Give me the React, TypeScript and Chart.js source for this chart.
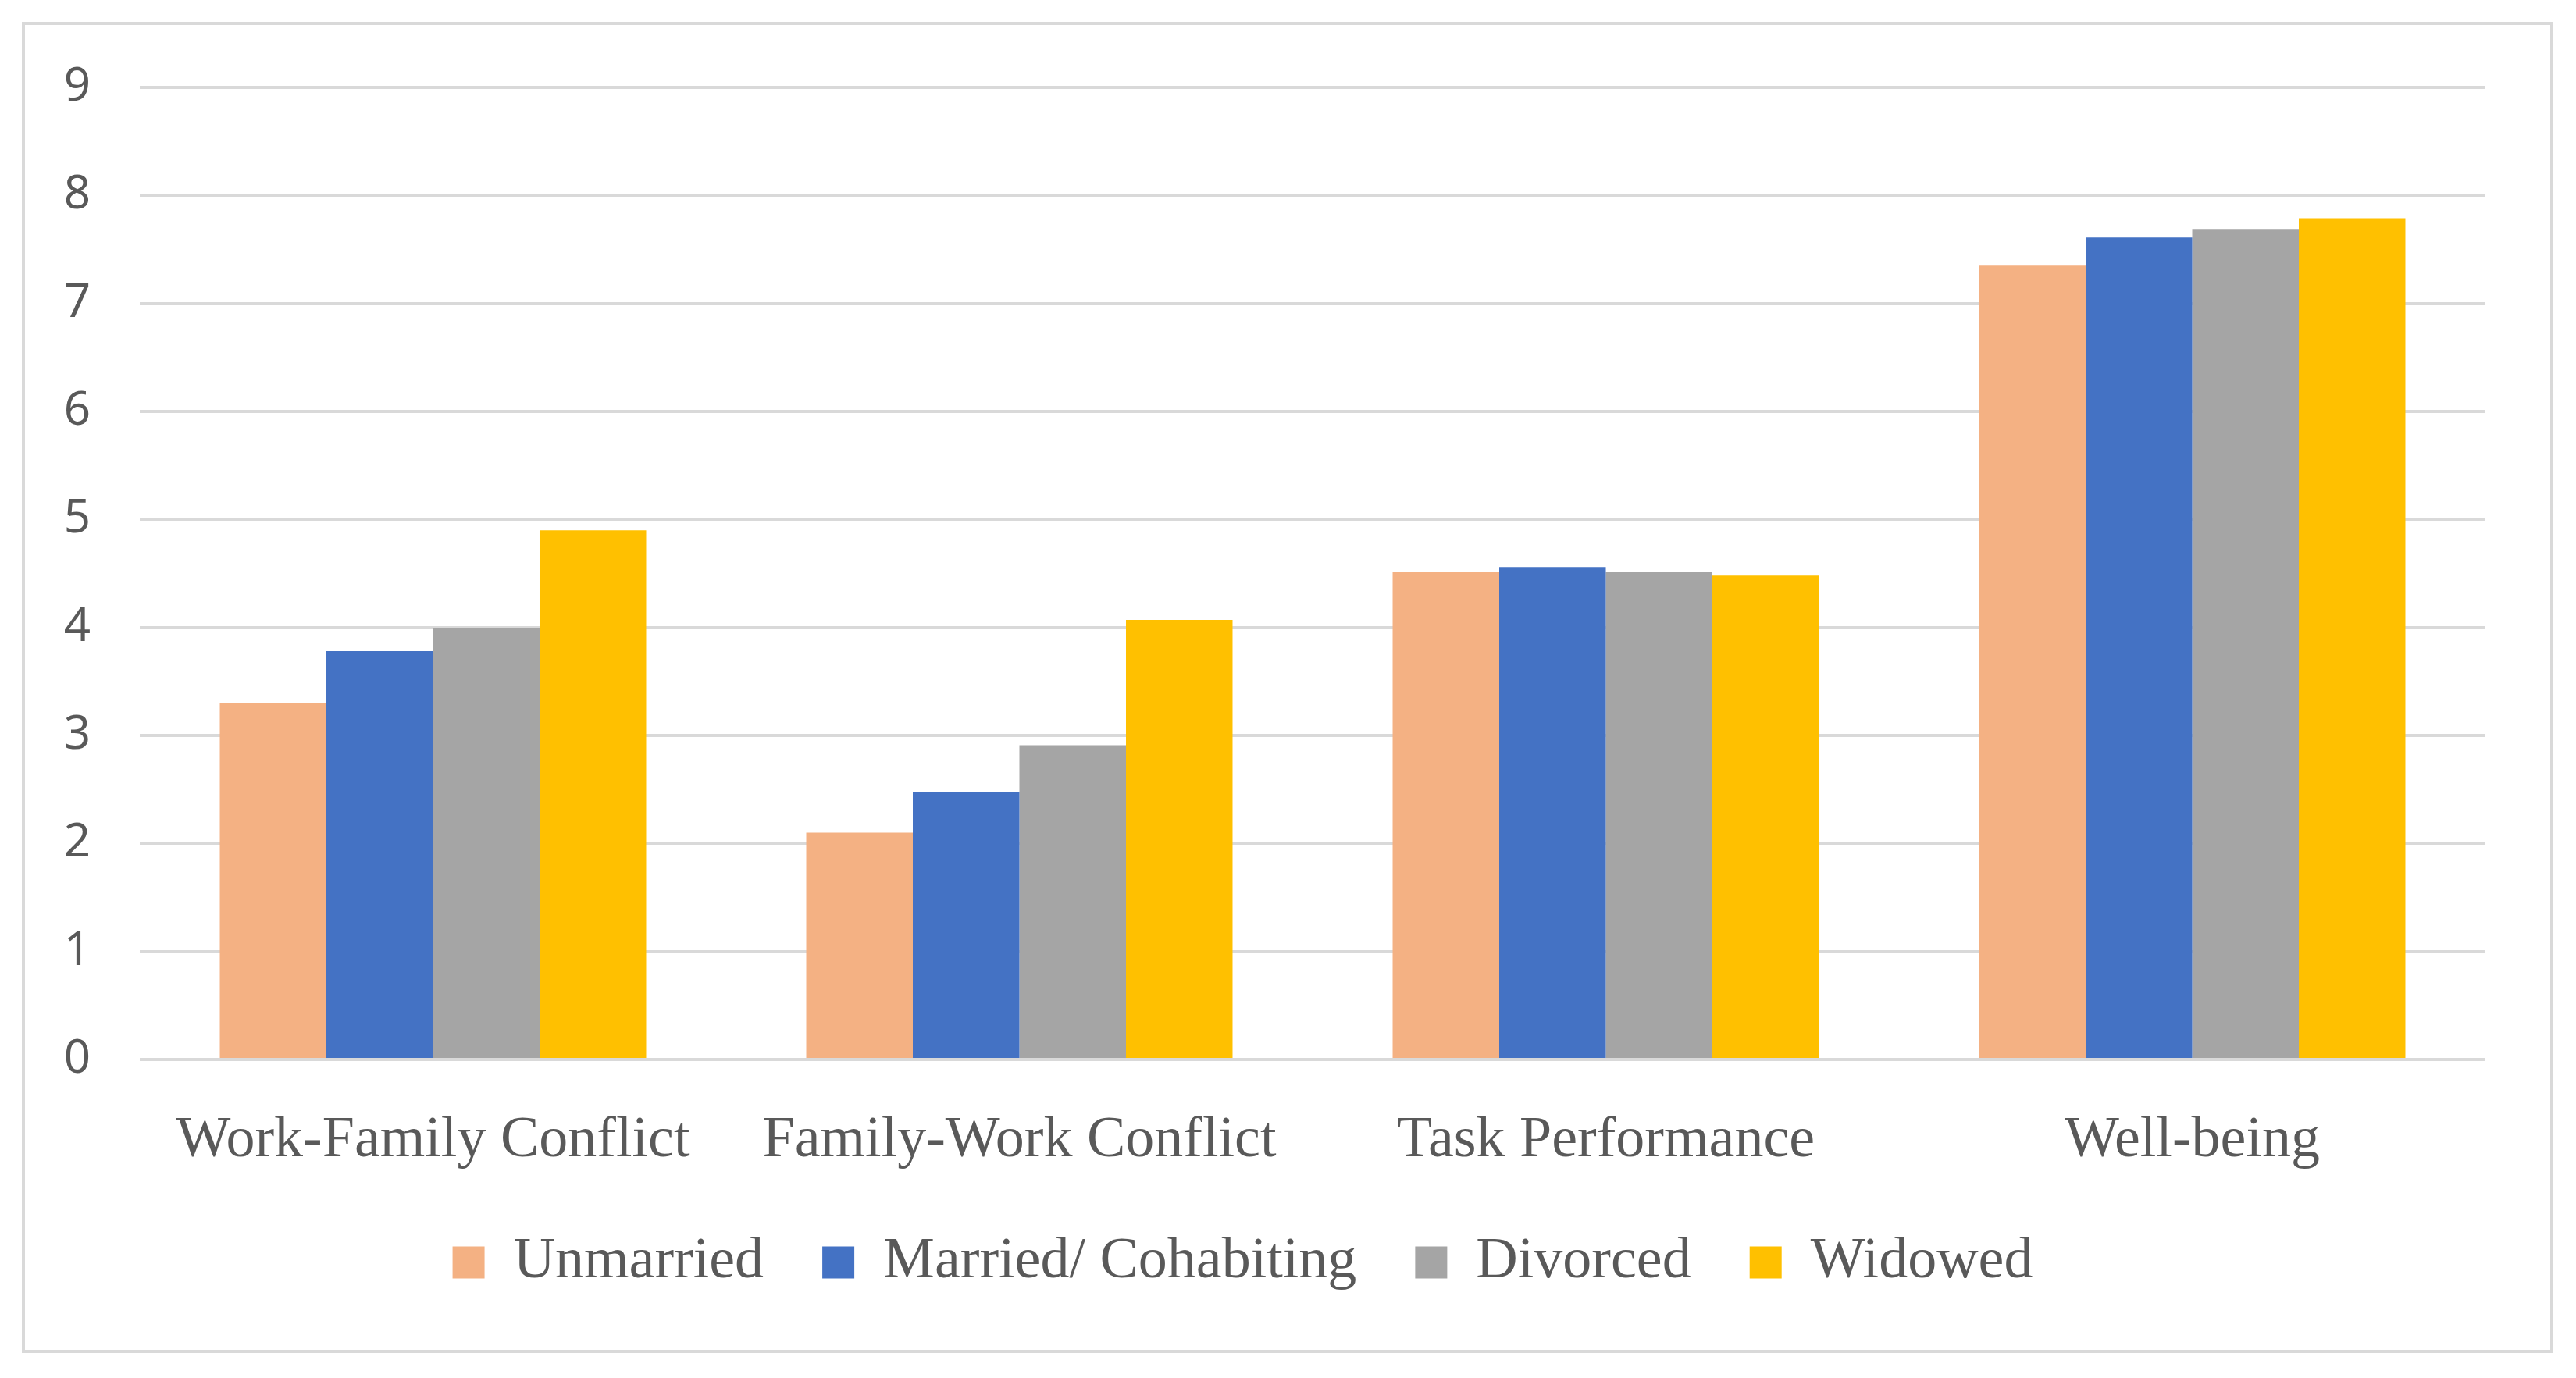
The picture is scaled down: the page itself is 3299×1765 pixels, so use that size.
import React, { useEffect, useRef } from "react";
import { Chart, registerables } from "chart.js";

Chart.register(...registerables);

const categories = ["Work-Family Conflict", "Family-Work Conflict", "Task Performance", "Well-being"];
const seriesNames = ["Unmarried", "Married/ Cohabiting", "Divorced", "Widowed"];
const unmarried = [3.3, 2.1, 4.51, 7.35];
const married = [3.78, 2.48, 4.56, 7.61];
const divorced = [3.99, 2.91, 4.51, 7.69];
const widowed = [4.9, 4.07, 4.48, 7.79];
const seriesColors = ["#F4B183", "#4472C4", "#A5A5A5", "#FFC000"];
const yMin = 0;
const yMax = 9;

export default function App() {
  const ref = useRef<HTMLCanvasElement | null>(null);
  useEffect(() => {
    document.body.style.margin = "0";
    const canvas = ref.current;
    if (!canvas) return;
    const values = [unmarried, married, divorced, widowed];
    const chart = new Chart(canvas, {
      type: "bar",
      data: {
        labels: categories,
        datasets: seriesNames.map((name, i) => ({
          label: name,
          data: values[i],
          backgroundColor: seriesColors[i],
          borderWidth: 0,
          categoryPercentage: 0.727,
          barPercentage: 1.0,
        })),
      },
      options: {
        animation: false,
        responsive: false,
        maintainAspectRatio: false,
        devicePixelRatio: 1,
        layout: { padding: { left: 0, right: 116, top: 112, bottom: 101 } },
        plugins: {
          tooltip: { enabled: false },
          legend: {
            position: "bottom",
            labels: {
              boxWidth: 41,
              boxHeight: 41,
              padding: 75,
              color: "#595959",
              font: { family: "'Liberation Serif', serif", size: 74 },
            },
          },
        },
        scales: {
          x: {
            grid: { display: false },
            border: { display: false },
            ticks: {
              color: "#595959",
              padding: 52,
              font: { family: "'Liberation Serif', serif", size: 74 },
            },
            afterFit: (s: any) => {
              s.height = 148;
            },
          },
          y: {
            min: yMin,
            max: yMax,
            border: { display: false },
            grid: { color: "#D9D9D9", lineWidth: 4, drawTicks: false },
            ticks: {
              stepSize: 1,
              padding: 63,
              color: "#595959",
              font: { family: "'Noto Sans', sans-serif", size: 60 },
            },
            afterFit: (s: any) => {
              s.width = 179;
            },
          },
        },
      },
    });
    return () => chart.destroy();
  }, []);
  return (
    <div style={{ position: "relative", width: 3299, height: 1765, background: "#fff" }}>
      <div
        style={{
          position: "absolute",
          left: 28,
          top: 28,
          width: 3242,
          height: 1705,
          border: "4px solid #D9D9D9",
          boxSizing: "border-box",
        }}
      />
      <canvas ref={ref} width={3299} height={1765} style={{ position: "absolute", left: 0, top: 0 }} />
    </div>
  );
}
